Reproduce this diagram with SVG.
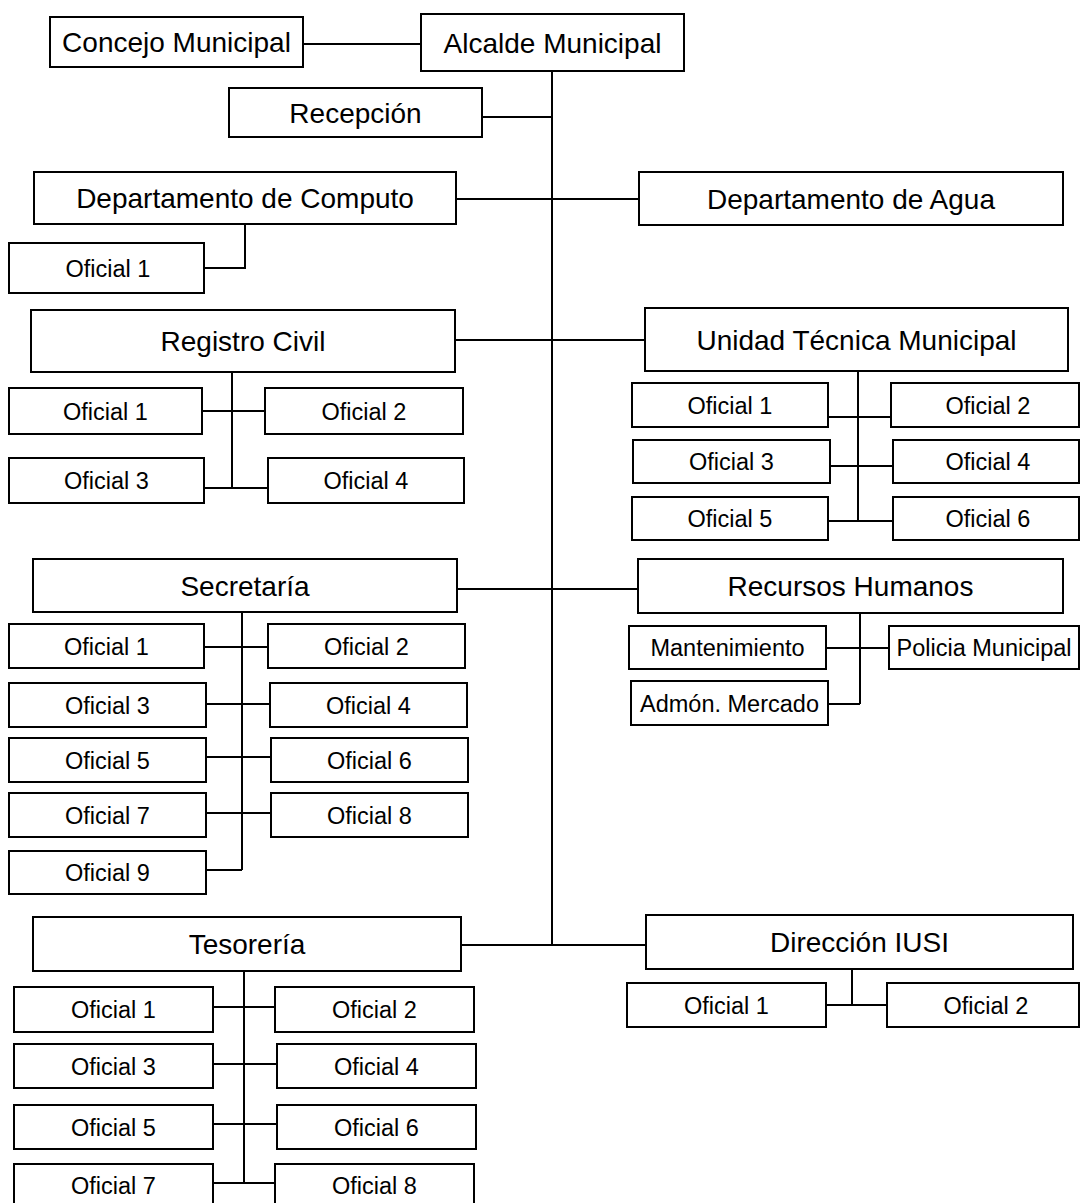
<svg xmlns="http://www.w3.org/2000/svg" width="1080" height="1203" viewBox="0 0 1080 1203">
<style>
rect{fill:#fff;stroke:#000;stroke-width:2}
text{font-family:"Liberation Sans",Arial,sans-serif;font-size:28px;text-anchor:middle;fill:#000}
.s text{font-size:23.5px}
#connectors{stroke:#000;stroke-width:2;fill:none}
</style>
<rect x="0" y="0" width="1080" height="1203" style="fill:#fff;stroke:none"/>
<g id="connectors">
<path d="M303 44H421"/>
<path d="M552 71V945"/>
<path d="M482 117H552"/>
<path d="M456 199H639"/>
<path d="M245 224V268H204"/>
<path d="M455 340H645"/>
<path d="M232 372V488M202 411H265M204 488H268"/>
<path d="M858 371V521M828 417H891M830 466H893M828 521H893"/>
<path d="M457 589H638"/>
<path d="M242 612V870M204 647H268M206 704H270M206 757H271M206 813H271M206 870H242"/>
<path d="M860 613V704M826 648H889M828 704H860"/>
<path d="M461 945H646"/>
<path d="M244 971V1183M213 1007H277M213 1064H277M213 1124H277M213 1183H277"/>
<path d="M852 969V1005M826 1005H887"/>
</g>
<g id="concejo"><rect x="50" y="17" width="253" height="50"/><text x="176.5" y="52">Concejo Municipal</text></g>
<g id="alcalde"><rect x="421" y="14" width="263" height="57"/><text x="552.5" y="52.5">Alcalde Municipal</text></g>
<g id="recepcion"><rect x="229" y="88" width="253" height="49"/><text x="355.5" y="122.5">Recepción</text></g>
<g id="computo"><rect x="34" y="172" width="422" height="52"/><text x="245" y="208">Departamento de Computo</text></g>
<g id="agua"><rect x="639" y="172" width="424" height="53"/><text x="851" y="208.5">Departamento de Agua</text></g>
<g id="computo-of1" class="s"><rect x="9" y="243" width="195" height="50"/><text x="108" y="276.5">Oficial 1</text></g>
<g id="registro"><rect x="31" y="310" width="424" height="62"/><text x="243" y="351">Registro Civil</text></g>
<g id="utm"><rect x="645" y="308" width="423" height="63"/><text x="856.5" y="349.5">Unidad Técnica Municipal</text></g>
<g id="rc-of1" class="s"><rect x="9" y="388" width="193" height="46"/><text x="105.5" y="419.5">Oficial 1</text></g>
<g id="rc-of2" class="s"><rect x="265" y="388" width="198" height="46"/><text x="364" y="419.5">Oficial 2</text></g>
<g id="rc-of3" class="s"><rect x="9" y="458" width="195" height="45"/><text x="106.5" y="489">Oficial 3</text></g>
<g id="rc-of4" class="s"><rect x="268" y="458" width="196" height="45"/><text x="366" y="489">Oficial 4</text></g>
<g id="utm-of1" class="s"><rect x="632" y="383" width="196" height="44"/><text x="730" y="413.5">Oficial 1</text></g>
<g id="utm-of2" class="s"><rect x="891" y="383" width="188" height="44"/><text x="988" y="413.5">Oficial 2</text></g>
<g id="utm-of3" class="s"><rect x="633" y="440" width="197" height="43"/><text x="731.5" y="470">Oficial 3</text></g>
<g id="utm-of4" class="s"><rect x="893" y="440" width="186" height="43"/><text x="988" y="470">Oficial 4</text></g>
<g id="utm-of5" class="s"><rect x="632" y="497" width="196" height="43"/><text x="730" y="527">Oficial 5</text></g>
<g id="utm-of6" class="s"><rect x="893" y="497" width="186" height="43"/><text x="988" y="527">Oficial 6</text></g>
<g id="secretaria"><rect x="33" y="559" width="424" height="53"/><text x="245" y="595.5">Secretaría</text></g>
<g id="rrhh"><rect x="638" y="559" width="425" height="54"/><text x="850.5" y="596">Recursos Humanos</text></g>
<g id="sec-of1" class="s"><rect x="9" y="624" width="195" height="44"/><text x="106.5" y="654.5">Oficial 1</text></g>
<g id="sec-of2" class="s"><rect x="268" y="624" width="197" height="44"/><text x="366.5" y="654.5">Oficial 2</text></g>
<g id="sec-of3" class="s"><rect x="9" y="683" width="197" height="44"/><text x="107.5" y="713.5">Oficial 3</text></g>
<g id="sec-of4" class="s"><rect x="270" y="683" width="197" height="44"/><text x="368.5" y="713.5">Oficial 4</text></g>
<g id="sec-of5" class="s"><rect x="9" y="738" width="197" height="44"/><text x="107.5" y="768.5">Oficial 5</text></g>
<g id="sec-of6" class="s"><rect x="271" y="738" width="197" height="44"/><text x="369.5" y="768.5">Oficial 6</text></g>
<g id="sec-of7" class="s"><rect x="9" y="793" width="197" height="44"/><text x="107.5" y="823.5">Oficial 7</text></g>
<g id="sec-of8" class="s"><rect x="271" y="793" width="197" height="44"/><text x="369.5" y="823.5">Oficial 8</text></g>
<g id="sec-of9" class="s"><rect x="9" y="851" width="197" height="43"/><text x="107.5" y="881">Oficial 9</text></g>
<g id="mantenimiento" class="s"><rect x="629" y="626" width="197" height="43"/><text x="727.5" y="656">Mantenimiento</text></g>
<g id="policia" class="s"><rect x="889" y="626" width="190" height="43"/><text x="984" y="656">Policia Municipal</text></g>
<g id="mercado" class="s"><rect x="631" y="681" width="197" height="44"/><text x="729.5" y="711.5">Admón. Mercado</text></g>
<g id="tesoreria"><rect x="33" y="917" width="428" height="54"/><text x="247" y="954">Tesorería</text></g>
<g id="iusi"><rect x="646" y="915" width="427" height="54"/><text x="859.5" y="952">Dirección IUSI</text></g>
<g id="tes-of1" class="s"><rect x="14" y="987" width="199" height="45"/><text x="113.5" y="1018">Oficial 1</text></g>
<g id="tes-of2" class="s"><rect x="275" y="987" width="199" height="45"/><text x="374.5" y="1018">Oficial 2</text></g>
<g id="tes-of3" class="s"><rect x="14" y="1044" width="199" height="44"/><text x="113.5" y="1074.5">Oficial 3</text></g>
<g id="tes-of4" class="s"><rect x="277" y="1044" width="199" height="44"/><text x="376.5" y="1074.5">Oficial 4</text></g>
<g id="tes-of5" class="s"><rect x="14" y="1105" width="199" height="44"/><text x="113.5" y="1135.5">Oficial 5</text></g>
<g id="tes-of6" class="s"><rect x="277" y="1105" width="199" height="44"/><text x="376.5" y="1135.5">Oficial 6</text></g>
<g id="tes-of7" class="s"><rect x="14" y="1164" width="199" height="50"/><text x="113.5" y="1194">Oficial 7</text></g>
<g id="tes-of8" class="s"><rect x="275" y="1164" width="199" height="50"/><text x="374.5" y="1194">Oficial 8</text></g>
<g id="iusi-of1" class="s"><rect x="627" y="983" width="199" height="44"/><text x="726.5" y="1013.5">Oficial 1</text></g>
<g id="iusi-of2" class="s"><rect x="887" y="983" width="192" height="44"/><text x="986" y="1013.5">Oficial 2</text></g>
</svg>
